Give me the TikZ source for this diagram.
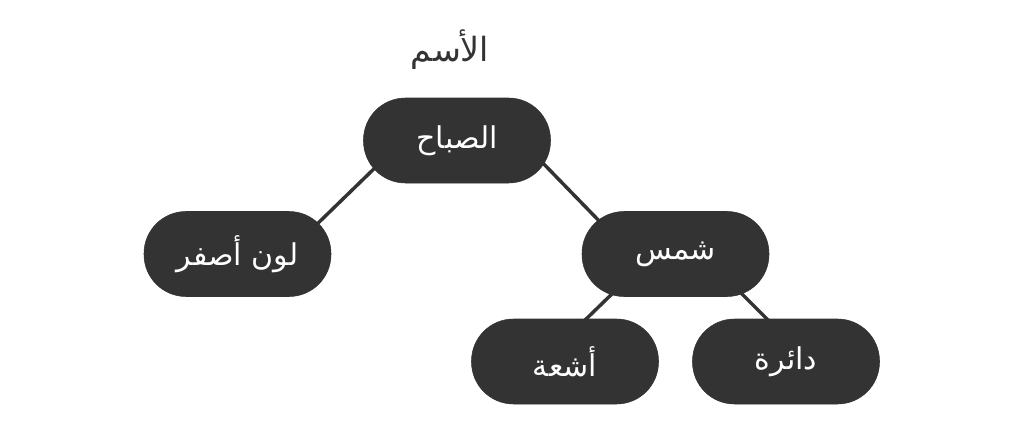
\documentclass[tikz,border=0pt]{standalone}
\usepackage{fontspec}
\TeXXeTstate=1
\newfontfamily\arabicfont[Script=Arabic]{DejaVu Sans}
\usetikzlibrary{calc,backgrounds}
\definecolor{dark}{HTML}{333333}
\tikzset{
  pill/.style={draw=dark, fill=dark, rectangle, rounded corners=31.5pt,
    minimum width=140.25pt, minimum height=63.75pt, inner sep=0pt,
    text=white, font=\arabicfont\fontsize{22.5}{26}\selectfont},
  title/.style={text=dark, font=\arabicfont\fontsize{25}{29}\selectfont},
  link/.style={draw=dark, line width=2.6pt}
}
\begin{document}
\begin{tikzpicture}[x=0.75pt,y=-0.75pt]
\useasboundingbox (0,0) rectangle (1024,446);
\node[title] (t) at (450,50) {\beginR الأسم\endR};
\node[pill] (n1) at (457,140.5) {\beginR الصباح\endR};
\node[pill] (n2) at (237.5,254) {\beginR لون أصفر\endR};
\node[pill] (n3) at (675.5,254) {\beginR شمس\endR};
\node[pill] (n4) at (565,361.5) {\beginR أشعة\endR};
\node[pill] (n5) at (786,361.5) {\beginR دائرة\endR};
\begin{scope}[on background layer]
\draw[link] ($(n1)+(-75,20.5)$) -- ($(n2)+(73.5,-24)$);
\draw[link] ($(n1)+(80,16.5)$) -- ($(n3)+(-69.5,-26)$);
\draw[link] ($(n3)+(-58.5,35)$) -- ($(n4)+(15,-36.5)$);
\draw[link] ($(n3)+(61.5,35)$) -- ($(n5)+(-13,-36.5)$);
\end{scope}
\end{tikzpicture}
\end{document}
